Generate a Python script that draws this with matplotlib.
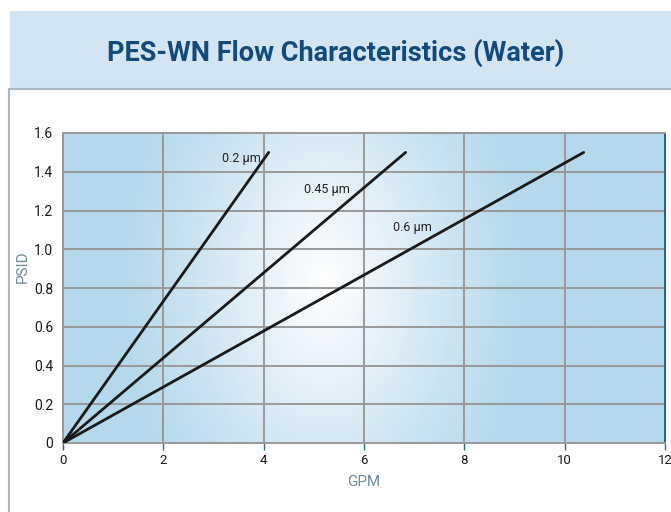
import numpy as np
import matplotlib
matplotlib.use("Agg")
import matplotlib.pyplot as plt
from matplotlib.colors import LinearSegmentedColormap
from matplotlib.patches import Rectangle

# Data
series_labels = ["0.2 µm", "0.45 µm", "0.6 µm"]
gpm_end = [4.1, 6.83, 10.38]
psid_end = [1.5, 1.5, 1.5]
label_x = [3.55, 5.26, 6.96]
label_y = [1.466, 1.306, 1.11]
x_ticks = [0, 2, 4, 6, 8, 10, 12]
y_ticks = [0, 0.2, 0.4, 0.6, 0.8, 1.0, 1.2, 1.4, 1.6]
y_ticklabels = ["0", "0.2", "0.4", "0.6", "0.8", "1.0", "1.2", "1.4", "1.6"]

plt.rcParams["font.family"] = ["Roboto", "DejaVu Sans"]

W, H = 671, 512
fig = plt.figure(figsize=(W / 100, H / 100), dpi=100)

# title band and panel
bg = fig.add_axes([0, 0, 1, 1], zorder=-5)
bg.set_xlim(0, W); bg.set_ylim(H, 0); bg.axis("off")
bg.add_patch(Rectangle((10, 11), W - 10, 78, facecolor="#d3e4f3", edgecolor="none"))
bg.plot([9, W], [89, 89], color="#a8b6c2", lw=1.5)
bg.plot([9, 9], [89, H], color="#a8b6c2", lw=1.5)
bg.text(336, 53, "PES-WN Flow Characteristics (Water)", ha="center", va="center",
        fontsize=19.5, fontweight="bold", color="#134a7c")

ax = fig.add_axes([63 / W, 1 - 443 / H, (665 - 63) / W, (443 - 133) / H])
ax.set_xlim(0, 12)
ax.set_ylim(0, 1.6)

# radial gradient background
nx, ny = 400, 300
gx = np.linspace(0, 12, nx)
gy = np.linspace(0, 1.6, ny)
X, Y = np.meshgrid(gx, gy)
cx, cy = 5.2, 0.82
d = np.sqrt(((X - cx) / 4.0) ** 2 + ((Y - cy) / 1.6) ** 2)
d = np.clip(d, 0, 1)
cmap = LinearSegmentedColormap.from_list(
    "g", [(0, "#ffffff"), (0.3, "#e8f2f9"), (0.65, "#cce4f2"), (1, "#b4d9ed")])
ax.imshow(d, extent=[0, 12, 0, 1.6], origin="lower", aspect="auto", cmap=cmap,
          vmin=0, vmax=1, zorder=0, interpolation="bilinear")

ax.set_xticks(x_ticks)
ax.set_yticks(y_ticks)
ax.set_yticklabels(y_ticklabels)
ax.grid(True, color="#999999", lw=1.4, zorder=1)
for s in ["left", "top", "bottom"]:
    ax.spines[s].set_color("#999999")
    ax.spines[s].set_linewidth(1.4)
ax.spines["right"].set_color("#2b5f8f")
ax.spines["right"].set_linewidth(1.4)
ax.tick_params(axis="y", length=0, pad=7, labelsize=10, labelcolor="#1a1a1a")
ax.tick_params(axis="x", length=5, color="#2b6aa0", width=1, pad=3, labelsize=9.5,
               labelcolor="#1a1a1a")
ax.get_xticklabels()[-1].set_horizontalalignment("right")
for t in ax.get_xticklabels():
    if t.get_text() == "12":
        t.set_horizontalalignment("center")

for xe, ye in zip(gpm_end, psid_end):
    ax.plot([0, xe], [0, ye], color="#1a1a1a", lw=2.0, zorder=3, solid_capstyle="round")
for lab, lx, ly in zip(series_labels, label_x, label_y):
    ax.text(lx, ly, lab, ha="center", va="center", fontsize=9, color="#222222", zorder=4)

ax.set_xlabel("GPM", color="#6f8aa0", fontsize=11)
ax.set_ylabel("PSID", color="#6f8aa0", fontsize=11)
ax.xaxis.set_label_coords((364 - 63) / (665 - 63), -(475 - 443) / (443 - 133))
ax.yaxis.set_label_coords(-(63 - 30) / (665 - 63), (443 - 267) / (443 - 133))

fig.savefig("out.png", dpi=100)
